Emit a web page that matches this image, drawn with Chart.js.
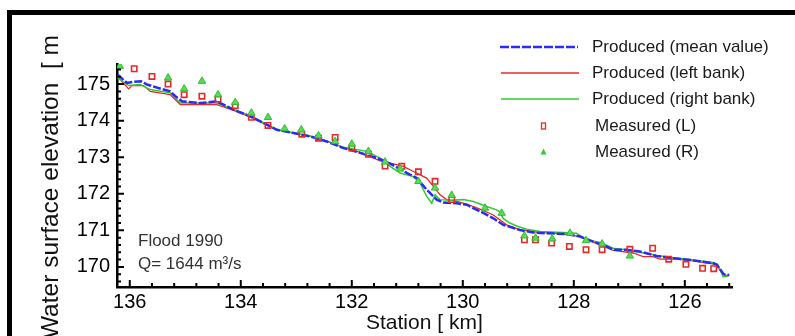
<!DOCTYPE html>
<html>
<head>
<meta charset="utf-8">
<script src="https://cdn.jsdelivr.net/npm/chart.js@4.4.1/dist/chart.umd.min.js"></script>
<style>
  html, body { margin: 0; padding: 0; background: #fff; }
  #wrap { position: relative; width: 795px; height: 336px; }
</style>
</head>
<body>
<div id="wrap"><canvas id="c" width="795" height="336"></canvas></div>
<script>
// ---- data (station km, elevation m) ----
const meanKm  = [136.22,136.05,135.95,135.8,135.69,135.5,135.27,135.18,135.06,134.73,134.43,134.13,133.83,133.53,133.35,133.05,132.75,132.45,132.15,131.85,131.55,131.3,131.01,130.83,130.65,130.47,130.35,130.11,129.93,129.69,129.45,129.27,128.97,128.73,128.49,128.13,127.89,127.65,127.41,127.29,127.05,126.81,126.51,126.21,125.91,125.49,125.43,125.3,125.2];
const meanVal = [175.26,175.03,175.06,175.08,174.99,174.9,174.8,174.67,174.53,174.48,174.53,174.3,174.12,173.89,173.75,173.66,173.57,173.43,173.25,173.12,172.98,172.82,172.57,172.43,172.11,171.84,171.76,171.74,171.7,171.52,171.33,171.15,171.01,170.94,170.92,170.9,170.83,170.69,170.56,170.47,170.47,170.42,170.3,170.24,170.19,170.1,170.07,169.8,169.78];

const leftKm  = [136.22,136.02,135.96,135.75,135.63,135.27,135.15,135.09,134.43,134.13,133.83,133.53,133.35,133.05,132.75,132.45,132.15,131.85,131.49,131.25,131.07,130.89,130.65,130.53,130.41,130.29,130.11,129.93,129.69,129.45,129.21,128.97,128.61,128.25,127.89,127.53,127.29,126.93,126.75,126.57,126.45,126.21,125.91,125.49,125.43,125.3,125.2];
const leftVal = [175.2,174.87,174.96,174.96,174.8,174.71,174.53,174.44,174.44,174.28,174.1,173.88,173.75,173.66,173.57,173.44,173.27,173.13,172.9,172.82,172.75,172.61,172.43,172.2,171.97,171.84,171.79,171.72,171.58,171.42,171.15,171.01,170.94,170.92,170.83,170.6,170.45,170.38,170.28,170.28,170.21,170.22,170.18,170.08,170.05,169.78,169.76];

const rightKm  = [136.22,136.02,135.81,135.63,135.27,135.09,134.43,134.13,133.83,133.53,133.35,133.05,132.75,132.45,132.15,131.73,131.43,131.31,131.13,130.89,130.77,130.65,130.56,130.5,130.41,130.23,129.99,129.81,129.57,129.39,129.33,129.27,129.15,129.03,128.85,128.61,128.19,127.95,127.77,127.53,127.29,127.05,126.81,126.51,126.21,125.91,125.49,125.4,125.31,125.22];
const rightVal = [175.17,174.96,174.99,174.85,174.76,174.48,174.48,174.31,174.13,173.9,173.76,173.67,173.58,173.44,173.27,173.16,172.93,172.75,172.57,172.47,172.29,171.93,171.74,171.97,171.84,171.82,171.84,171.79,171.65,171.56,171.5,171.32,171.2,171.12,171.03,170.97,170.94,170.92,170.74,170.67,170.51,170.47,170.4,170.31,170.25,170.2,170.12,170.05,169.73,169.75];

const measLKm  = [135.92,135.6,135.31,135.02,134.7,134.41,134.1,133.81,133.51,132.9,132.6,132.3,132.0,131.7,131.4,131.1,130.8,130.5,130.2,128.89,128.69,128.4,128.08,127.78,127.49,126.99,126.58,126.29,125.98,125.68,125.48];
const measLVal = [175.42,175.21,175.0,174.71,174.67,174.59,174.41,174.09,173.87,173.63,173.52,173.54,173.25,173.08,172.76,172.75,172.6,172.34,171.84,170.74,170.74,170.65,170.56,170.47,170.47,170.48,170.51,170.21,170.07,169.96,169.95];

const measRKm  = [136.18,135.31,135.02,134.7,134.41,134.1,133.81,133.51,133.21,132.91,132.6,132.3,132.0,131.7,131.4,131.13,130.8,130.5,130.2,129.6,129.3,128.89,128.69,128.39,128.07,127.78,127.49,126.99];
const measRVal = [175.49,175.17,174.87,175.08,174.71,174.5,174.21,174.09,173.78,173.75,173.59,173.43,173.36,173.16,172.87,172.68,172.34,172.16,171.96,171.61,171.47,170.85,170.79,170.77,170.92,170.72,170.63,170.3];

const xTickLabels = [126,128,130,132,134,136];
const yTickLabels = [170,171,172,173,174,175];
const legendLabels = ['Produced (mean value)','Produced (left bank)','Produced (right bank)','Measured (L)','Measured (R)'];
const yTitle = 'Water surface elevation  [ m';
const xTitle = 'Station [ km]';
const noteLines = ['Flood 1990','Q= 1644 m\u00B3/s'];

const pts = (xs, ys) => xs.map((x, i) => ({x: x, y: ys[i]}));

const BLUE = '#2b2bf5', RED = '#e42a2a', GREEN = '#2fcb2f';

const extras = {
  id: 'extras',
  afterDraw(chart) {
    const ctx = chart.ctx, xs = chart.scales.x, ys = chart.scales.y, ca = chart.chartArea;
    ctx.save();
    // frame
    ctx.fillStyle = '#000';
    ctx.fillRect(7, 10, 5, 326);
    ctx.fillRect(7, 10, 788, 5);
    // inward ticks
    ctx.strokeStyle = '#000';
    ctx.lineWidth = 2;
    ctx.beginPath();
    for (let k = 0; k <= 27; k++) {
      const v = 136 - 0.4 * k;
      if (v < xs.min - 1e-6) break;
      const px = xs.getPixelForValue(v);
      const major = Math.abs(v - Math.round(v)) < 1e-6 && Math.round(v) % 2 === 0;
      const L = major ? 7 : 4;
      ctx.moveTo(px, ca.bottom); ctx.lineTo(px, ca.bottom - L);
    }
    for (let k = 0; k <= 40; k++) {
      const v = 169.6 + 0.2 * k;
      if (v > ys.max + 1e-6) break;
      const py = ys.getPixelForValue(v);
      const major = Math.abs(v - Math.round(v)) < 1e-6;
      const L = major ? 7 : 4;
      ctx.moveTo(ca.left, py); ctx.lineTo(ca.left + L, py);
    }
    ctx.stroke();
    // axis titles
    ctx.fillStyle = '#111';
    ctx.font = '24.5px "Liberation Sans", Arial, sans-serif';
    ctx.textBaseline = 'middle';
    ctx.save();
    ctx.translate(51, 35);
    ctx.rotate(-Math.PI / 2);
    ctx.textAlign = 'right';
    ctx.fillText(yTitle, 0, 0);
    ctx.restore();
    ctx.font = '21px "Liberation Sans", Arial, sans-serif';
    ctx.textAlign = 'left';
    ctx.fillText(xTitle, 366, 323);
    // annotation
    ctx.fillStyle = '#333';
    ctx.font = '17px "Liberation Sans", Arial, sans-serif';
    ctx.fillText(noteLines[0], 138, 241);
    ctx.fillText(noteLines[1], 138, 264);
    // legend
    const rows = [47, 73, 99, 126, 152];
    ctx.lineWidth = 2.5; ctx.strokeStyle = BLUE; ctx.setLineDash([9, 2]);
    ctx.beginPath(); ctx.moveTo(500, rows[0]); ctx.lineTo(578, rows[0]); ctx.stroke();
    ctx.setLineDash([]);
    ctx.lineWidth = 1.3; ctx.strokeStyle = RED;
    ctx.beginPath(); ctx.moveTo(501, rows[1]); ctx.lineTo(579, rows[1]); ctx.stroke();
    ctx.lineWidth = 1.5; ctx.strokeStyle = GREEN;
    ctx.beginPath(); ctx.moveTo(501, rows[2]); ctx.lineTo(579, rows[2]); ctx.stroke();
    ctx.strokeStyle = RED; ctx.lineWidth = 1.3;
    ctx.strokeRect(541.5, rows[3] - 3, 4, 6);
    ctx.fillStyle = GREEN;
    ctx.beginPath(); ctx.moveTo(543.5, rows[4] - 3.5); ctx.lineTo(546.5, rows[4] + 2.5); ctx.lineTo(540.5, rows[4] + 2.5); ctx.closePath(); ctx.fill();
    ctx.fillStyle = '#1a1a1a';
    ctx.font = '17px "Liberation Sans", Arial, sans-serif';
    ctx.textAlign = 'left';
    ctx.fillText(legendLabels[0], 592, rows[0]);
    ctx.fillText(legendLabels[1], 592, rows[1]);
    ctx.fillText(legendLabels[2], 592, rows[2]);
    ctx.fillText(legendLabels[3], 595, rows[3]);
    ctx.fillText(legendLabels[4], 595, rows[4]);
    ctx.restore();
  }
};

new Chart(document.getElementById('c'), {
  type: 'line',
  data: {
    datasets: [
      { label: legendLabels[0], data: pts(meanKm, meanVal), borderColor: BLUE, borderWidth: 2.5, borderDash: [8, 2], pointRadius: 0, tension: 0, order: 2 },
      { label: legendLabels[1], data: pts(leftKm, leftVal), borderColor: RED, borderWidth: 1.3, pointRadius: 0, tension: 0, order: 4 },
      { label: legendLabels[2], data: pts(rightKm, rightVal), borderColor: GREEN, borderWidth: 1.5, pointRadius: 0, tension: 0, order: 3 },
      { label: legendLabels[3], data: pts(measLKm, measLVal), showLine: false, pointStyle: 'rect', pointRadius: 3.8, borderColor: RED, borderWidth: 1.6, backgroundColor: 'rgba(255,255,255,0)', order: 1 },
      { label: legendLabels[4], data: pts(measRKm, measRVal), showLine: false, pointStyle: 'triangle', pointRadius: 4.3, borderColor: '#33bb33', borderWidth: 1, backgroundColor: '#55dd55', order: 0 }
    ]
  },
  options: {
    responsive: false,
    animation: false,
    layout: { padding: { left: 0, right: 63, top: 64, bottom: 0 } },
    plugins: { legend: { display: false }, tooltip: { enabled: false } },
    scales: {
      x: {
        type: 'linear', reverse: true, min: 125.15, max: 136.23,
        afterFit(s) { s.height = 49; },
        grid: { display: false, drawTicks: false },
        border: { display: true, color: '#000', width: 2.5 },
        ticks: {
          stepSize: 2, includeBounds: false, autoSkip: false, maxRotation: 0, padding: 3,
          color: '#000', font: { family: '"Liberation Sans", Arial, sans-serif', size: 20 },
          callback: (v) => xTickLabels.includes(v) ? String(v) : ''
        }
      },
      y: {
        type: 'linear', min: 169.45, max: 175.55,
        afterFit(s) { s.width = 117; },
        grid: { display: false, drawTicks: false },
        border: { display: true, color: '#000', width: 2.5 },
        ticks: {
          stepSize: 1, includeBounds: false, padding: 7,
          color: '#000', font: { family: '"Liberation Sans", Arial, sans-serif', size: 20 },
          callback: (v) => yTickLabels.includes(v) ? String(v) : ''
        }
      }
    }
  },
  plugins: [extras]
});
</script>
</body>
</html>
